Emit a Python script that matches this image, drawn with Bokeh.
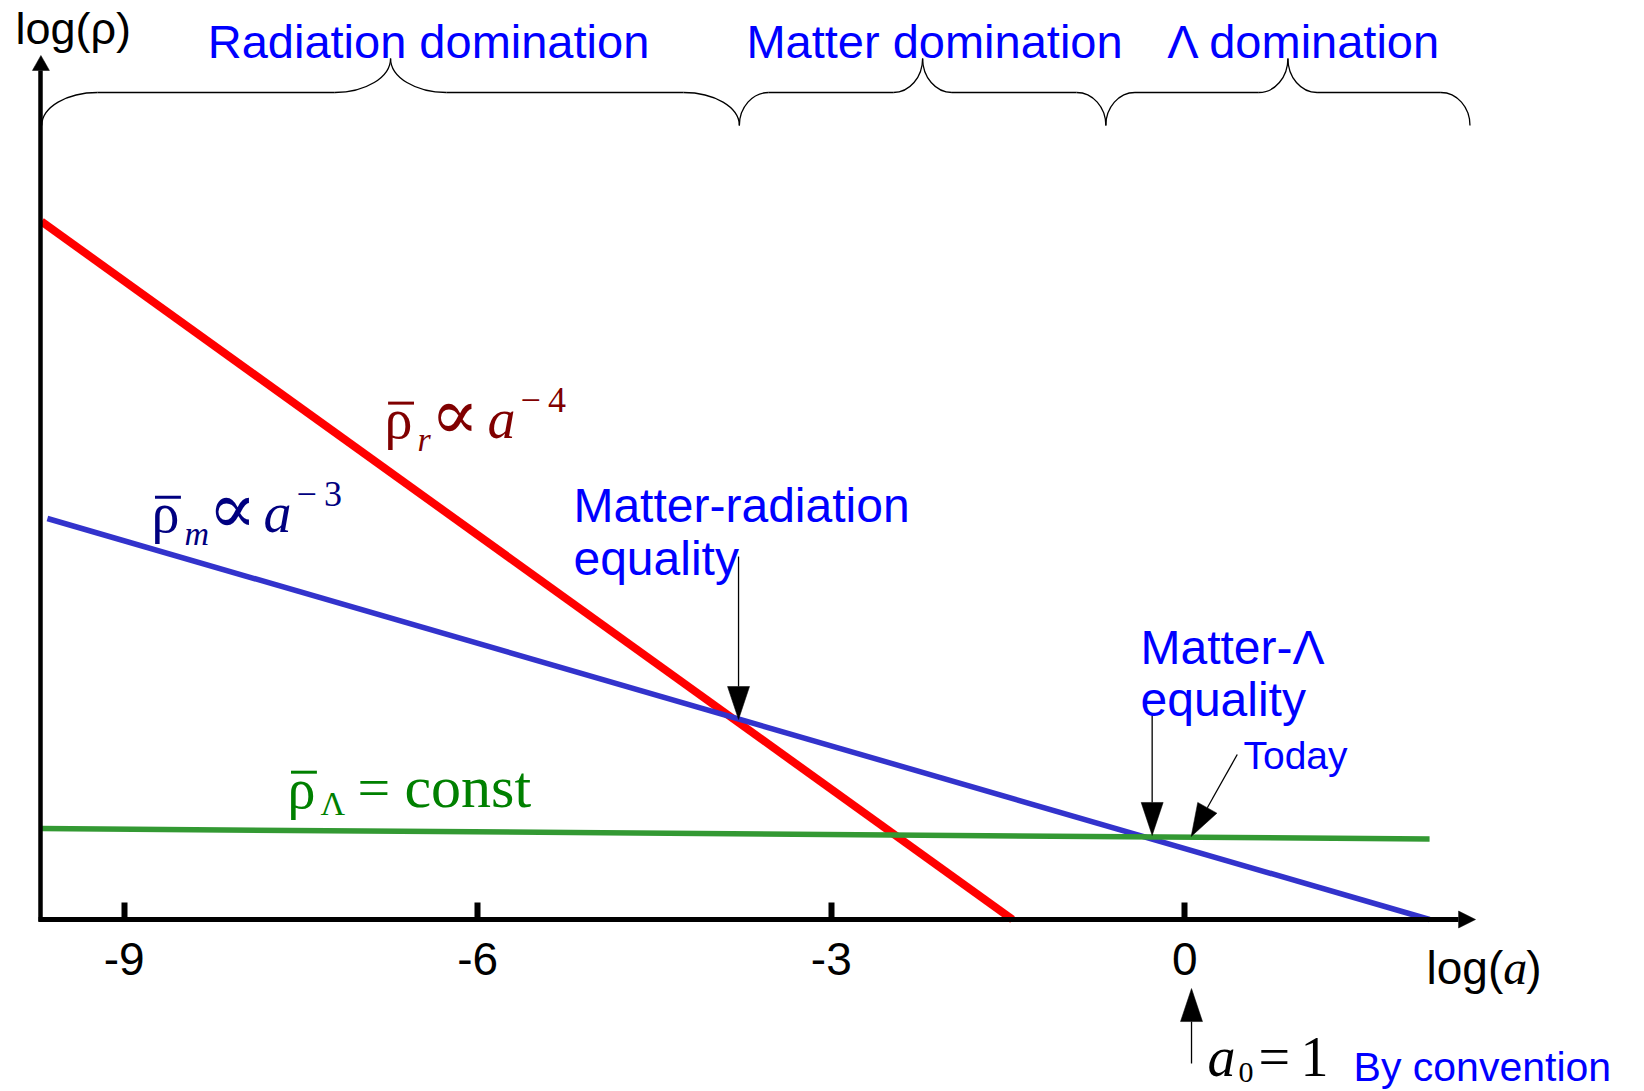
from bokeh.plotting import figure
from bokeh.models import Range1d, LinearAxis, FixedTicker, ColumnDataSource
from bokeh.core.properties import value
from bokeh.embed import file_html
from bokeh.resources import INLINE

# --- energy density of each component, log(rho) against log(a) -------------
rad_x = [-9.702, -1.462]
rad_y = [5.923, 0.0]
mat_x = [-9.652, 2.077]
mat_y = [3.403, 0.0]
lam_x = [-9.711, 2.077]
lam_y = [0.772, 0.683]

tick_values = [-9, -6, -3, 0]
tick_labels = ["-9", "-6", "-3", "0"]

# eras shown by the braces along the top
era_names = ["Radiation domination", "Matter domination", "Λ domination"]
era_edges = [-9.70, -3.78, -0.67, 2.42]

# --- canvas / scales ---------------------------------------------------------
W, H = 1644, 1091
x_lo, x_hi = -10.050, 3.901
y_lo, y_hi = -1.4596, 7.7987
ppu = W / (x_hi - x_lo)          # pixels per data unit (same on both axes)

p = figure(width=W, height=H, x_range=Range1d(x_lo, x_hi), y_range=Range1d(y_lo, y_hi),
           output_backend="svg", toolbar_location=None,
           x_axis_location=None, y_axis_location=None,
           min_border=0, outline_line_color=None, background_fill_color="white")
p.grid.visible = False

SANS = "Liberation Sans"
SERIF = "Liberation Serif"
MATH = "DejaVu Serif"
BLUE_TXT = "#0000ff"

# --- axes --------------------------------------------------------------------
y_axis_x = -9.707
x_axis_end = 2.323
y_axis_end = 7.205

xaxis = LinearAxis(fixed_location=0, ticker=FixedTicker(ticks=tick_values),
                   major_label_overrides={v: s for v, s in zip(tick_values, tick_labels)},
                   bounds=(-9.724, x_axis_end),
                   axis_line_width=5, axis_line_color="black",
                   major_tick_in=17, major_tick_out=0, major_tick_line_width=6,
                   minor_tick_line_color=None,
                   major_label_text_font=SANS, major_label_text_font_size="46px",
                   major_label_text_color="black", major_label_standoff=23)
p.add_layout(xaxis, "below")

yaxis = LinearAxis(fixed_location=y_axis_x, ticker=FixedTicker(ticks=[]),
                   bounds=(-0.021, y_axis_end),
                   axis_line_width=4.5, axis_line_color="black",
                   major_tick_line_color=None, minor_tick_line_color=None,
                   major_label_text_font_size="0px")
p.add_layout(yaxis, "left")

# --- density lines -----------------------------------------------------------
p.line(rad_x, rad_y, line_color="#ff0000", line_width=8)
p.line(mat_x, mat_y, line_color="#3333cc", line_width=5.5)
p.line(lam_x, lam_y, line_color="#339933", line_width=5.5)

# --- braces ------------------------------------------------------------------
def brace(x0, x1, y_end, y_flat, y_peak, frac=0.08, k=0.5523):
    w = frac * (x1 - x0)
    xc = 0.5 * (x0 + x1)
    curves = [
        ((x0, y_end), (x0, y_end + k * (y_flat - y_end)), (x0 + (1 - k) * w, y_flat), (x0 + w, y_flat)),
        ((xc - w, y_flat), (xc - w + k * w, y_flat), (xc, y_peak - k * (y_peak - y_flat)), (xc, y_peak)),
        ((xc, y_peak), (xc, y_peak - k * (y_peak - y_flat)), (xc + w - k * w, y_flat), (xc + w, y_flat)),
        ((x1 - w, y_flat), (x1 - (1 - k) * w, y_flat), (x1, y_end + k * (y_flat - y_end)), (x1, y_end)),
    ]
    flats = [((x0 + w, y_flat), (xc - w, y_flat)), ((xc + w, y_flat), (x1 - w, y_flat))]
    return curves, flats

bz = dict(x0=[], y0=[], cx0=[], cy0=[], cx1=[], cy1=[], x1=[], y1=[])
sg = dict(x0=[], y0=[], x1=[], y1=[])
for a, b in zip(era_edges[:-1], era_edges[1:]):
    curves, flats = brace(a, b, 6.738, 7.018, 7.307)
    for P0, C0, C1, P1 in curves:
        bz["x0"].append(P0[0]); bz["y0"].append(P0[1])
        bz["cx0"].append(C0[0]); bz["cy0"].append(C0[1])
        bz["cx1"].append(C1[0]); bz["cy1"].append(C1[1])
        bz["x1"].append(P1[0]); bz["y1"].append(P1[1])
    for A, B in flats:
        sg["x0"].append(A[0]); sg["y0"].append(A[1])
        sg["x1"].append(B[0]); sg["y1"].append(B[1])

p.bezier(x0="x0", y0="y0", cx0="cx0", cy0="cy0", cx1="cx1", cy1="cy1", x1="x1", y1="y1",
         source=ColumnDataSource(bz), line_color="black", line_width=1.3)
p.segment(x0="x0", y0="y0", x1="x1", y1="y1", source=ColumnDataSource(sg),
          line_color="black", line_width=1.3)

# --- arrows ------------------------------------------------------------------
def arrow_parts(tail, tip, length_px, half_px):
    dx, dy = tip[0] - tail[0], tip[1] - tail[1]
    n = (dx * dx + dy * dy) ** 0.5
    ux, uy = dx / n, dy / n
    L, hw = length_px / ppu, half_px / ppu
    bx, by = tip[0] - L * ux, tip[1] - L * uy
    tri_x = [tip[0], bx - hw * uy, bx + hw * uy]
    tri_y = [tip[1], by + hw * ux, by - hw * ux]
    return (tail, (bx, by)), (tri_x, tri_y)

pointer_arrows = [
    ((-3.787, 3.080), (-3.787, 1.697)),   # matter-radiation equality
    ((-0.277, 1.748), (-0.277, 0.713)),   # matter-Λ equality
    ((0.445, 1.400), (0.054, 0.704)),     # today
    ((0.057, -1.222), (0.057, -0.586)),   # a0 = 1
]
shafts = dict(x0=[], y0=[], x1=[], y1=[])
heads = dict(xs=[], ys=[])
for tail, tip in pointer_arrows:
    (s0, s1), (tx, ty) = arrow_parts(tail, tip, 33, 11)
    shafts["x0"].append(s0[0]); shafts["y0"].append(s0[1])
    shafts["x1"].append(s1[0]); shafts["y1"].append(s1[1])
    heads["xs"].append(tx); heads["ys"].append(ty)

# axis arrow heads
for tail, tip, length in [((x_axis_end, 0.0), (x_axis_end + 17 / ppu, 0.0), 17),
                          ((y_axis_x, y_axis_end), (y_axis_x, y_axis_end + 15 / ppu), 15)]:
    _, (tx, ty) = arrow_parts(tail, tip, length, 8.5)
    heads["xs"].append(tx); heads["ys"].append(ty)

p.segment(x0="x0", y0="y0", x1="x1", y1="y1", source=ColumnDataSource(shafts),
          line_color="black", line_width=1.3)
p.patches(xs="xs", ys="ys", source=ColumnDataSource(heads),
          fill_color="black", line_color="black", line_width=0.5)

# --- text --------------------------------------------------------------------
# (text, x, baseline y, size px, colour, font, style)
left_texts = [
    ("log(\u03c1)", -9.923, 7.434, 45, "black", SANS, "normal"),
    ("log(", 2.051, -0.543, 46, "black", SANS, "normal"),
    ("a", 2.702, -0.543, 48, "black", SERIF, "italic"),
    (")", 2.897, -0.543, 46, "black", SANS, "normal"),
    ("Matter-radiation", -5.188, 3.377, 48, BLUE_TXT, SANS, "normal"),
    ("equality", -5.188, 2.928, 48, BLUE_TXT, SANS, "normal"),
    ("Matter-\u039b", -0.376, 2.172, 48, BLUE_TXT, SANS, "normal"),
    ("equality", -0.376, 1.731, 48, BLUE_TXT, SANS, "normal"),
    ("Today", 0.498, 1.281, 39, BLUE_TXT, SANS, "normal"),
    ("By convention", 1.432, -1.366, 41, BLUE_TXT, SANS, "normal"),
    # radiation: rho_r ∝ a^-4
    ("\u03c1", -6.791, 4.082, 56, "#800000", SERIF, "normal"),
    ("r", -6.511, 3.971, 34, "#800000", SERIF, "italic"),
    ("\u221d", -6.40, 4.082, 72, "#800000", MATH, "normal"),
    ("a", -5.917, 4.082, 56, "#800000", SERIF, "italic"),
    ("\u2212\u20094", -5.637, 4.302, 36, "#800000", SERIF, "normal"),
    # matter: rho_m ∝ a^-3
    ("\u03c1", -8.769, 3.284, 56, "#000080", SERIF, "normal"),
    ("m", -8.489, 3.174, 34, "#000080", SERIF, "italic"),
    ("\u221d", -8.29, 3.284, 72, "#000080", MATH, "normal"),
    ("a", -7.818, 3.284, 56, "#000080", SERIF, "italic"),
    ("\u2212\u20093", -7.538, 3.505, 36, "#000080", SERIF, "normal"),
    # vacuum: rho_Λ = const
    ("\u03c1", -7.615, 0.950, 56, "#008000", SERIF, "normal"),
    ("\u039b", -7.335, 0.883, 34, "#008000", SERIF, "normal"),
    ("=", -7.021, 0.950, 58, "#008000", SERIF, "normal"),
    ("const", -6.622, 0.950, 60, "#008000", SERIF, "normal"),
    # a0 = 1
    ("a", 0.193, -1.325, 56, "black", SERIF, "italic"),
    ("0", 0.456, -1.383, 30, "black", SERIF, "normal"),
    ("=", 0.625, -1.325, 56, "black", SERIF, "normal"),
    ("1", 0.982, -1.325, 56, "black", SERIF, "normal"),
]
era_label_x = [-6.418, -2.124, 1.016]
era_label_y = 7.315
era_label_size = 47

# the glyph's alphabetic anchor lands about a third of an em below the
# type baseline, so each baseline is lifted by that amount
LIFT = 0.34

def to_source(rows):
    return ColumnDataSource(dict(
        text=[r[0] for r in rows], x=[r[1] for r in rows],
        y=[r[2] + LIFT * r[3] / ppu for r in rows],
        size=[f"{r[3]}px" for r in rows], color=[r[4] for r in rows],
        font=[r[5] for r in rows], style=[r[6] for r in rows]))

p.text(x="x", y="y", text="text", source=to_source(left_texts),
       text_font="font", text_font_size="size", text_color="color",
       text_font_style="style", text_align="left", text_baseline="alphabetic")

p.text(x=era_label_x, y=[era_label_y + LIFT * era_label_size / ppu] * 3, text=era_names,
       text_font=value(SANS), text_font_size=value(f"{era_label_size}px"), text_color=BLUE_TXT,
       text_align="center", text_baseline="alphabetic")

# mean-density bars over each rho
rho_rows = [r for r in left_texts if r[0] == "\u03c1"]
bars = dict(x0=[r[1] + 0.03 for r in rho_rows], x1=[r[1] + 0.25 for r in rho_rows],
            y=[r[2] + 0.30 for r in rho_rows], color=[r[4] for r in rho_rows])
p.segment(x0="x0", y0="y", x1="x1", y1="y", line_color="color", line_width=3,
          source=ColumnDataSource(bars))

open("out.html", "w").write(file_html(p, INLINE))
